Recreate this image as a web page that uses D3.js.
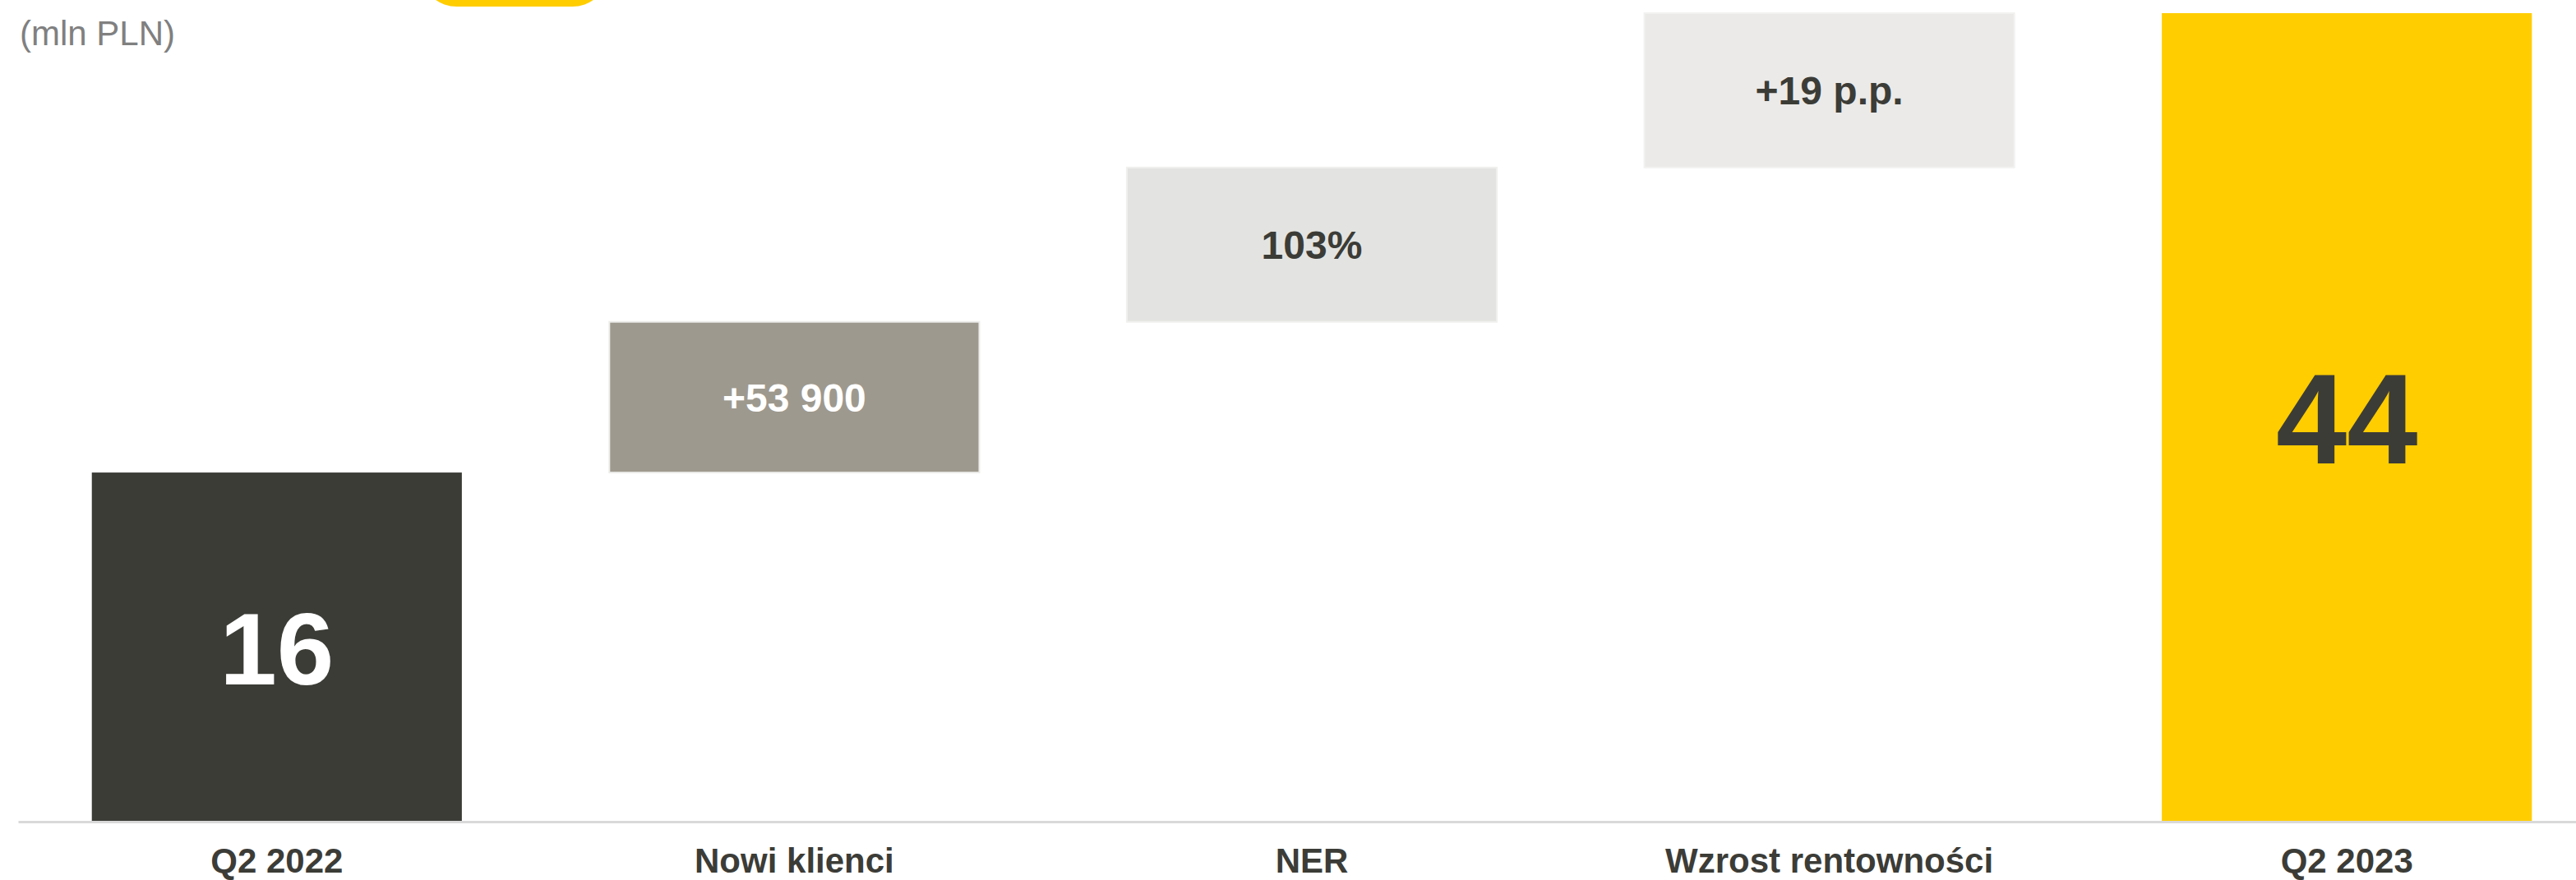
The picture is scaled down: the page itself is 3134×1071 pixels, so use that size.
<!DOCTYPE html>
<html>
<head>
<meta charset="utf-8">
<script src="https://cdn.jsdelivr.net/npm/d3@7"></script>
<style>
  html, body { margin: 0; padding: 0; background: #ffffff; }
  svg { display: block; font-family: "Liberation Sans", Arial, sans-serif; }
</style>
</head>
<body>
<svg id="chart" width="3134" height="1071"></svg>
<script>
// ---- data ----
const categories = ["Q2 2022", "Nowi klienci", "NER", "Wzrost rentowności", "Q2 2023"];
// schematic waterfall extents (in the chart's units)
const barStart = [0, 19, 27.2, 35.6, 0];
const barEnd   = [19, 27.2, 35.6, 44, 44];
const valueLabels = ["16", "+53 900", "103%", "+19 p.p.", "44"];
const unitLabel = "(mln PLN)";

// ---- styles ----
const fills = ["#3c3c37", "#9e998e", "#e3e4e1", "#ebeae8", "#ffcd00"];
const strokes = ["none", "#ececea", "#f0f0ee", "#f2f2f0", "none"];
const labelColors = ["#ffffff", "#ffffff", "#3c3c37", "#3c3c37", "#3c3c37"];
const labelSizes = [125, 48, 48, 48, 155];

const svg = d3.select("#chart");
const baseY = 1000;

const x = d3.scaleBand()
  .domain(categories)
  .range([22, 3170])
  .paddingInner(0.285)
  .paddingOuter(0.1425);

const y = d3.scaleLinear()
  .domain([0, 44])
  .range([baseY, 16]);

const data = categories.map((c, i) => ({
  cat: c, s: barStart[i], e: barEnd[i], label: valueLabels[i], i
}));

// decorative yellow pill at the top edge
svg.append("rect")
  .attr("x", 516).attr("y", -60)
  .attr("width", 220).attr("height", 68)
  .attr("rx", 40).attr("ry", 40)
  .attr("fill", "#ffcd00");

// unit label
svg.append("text")
  .attr("x", 24).attr("y", 55)
  .attr("font-size", 42)
  .attr("fill", "#808080")
  .text(unitLabel);

// bars
svg.append("g").selectAll("rect")
  .data(data)
  .join("rect")
  .attr("x", d => x(d.cat))
  .attr("width", x.bandwidth())
  .attr("y", d => y(d.e))
  .attr("height", d => y(d.s) - y(d.e))
  .attr("fill", d => fills[d.i])
  .attr("stroke", d => strokes[d.i])
  .attr("stroke-width", 2);

// value labels
svg.append("g").selectAll("text")
  .data(data)
  .join("text")
  .attr("x", d => x(d.cat) + x.bandwidth() / 2)
  .attr("y", d => (y(d.s) + y(d.e)) / 2)
  .attr("dy", "0.36em")
  .attr("text-anchor", "middle")
  .attr("font-weight", "bold")
  .attr("font-size", d => labelSizes[d.i])
  .attr("fill", d => labelColors[d.i])
  .text(d => d.label);

// x axis
const axis = d3.axisBottom(x).tickSize(0).tickPadding(32);
const gx = svg.append("g")
  .attr("transform", `translate(0,${baseY})`)
  .call(axis);
gx.select(".domain").attr("stroke", "#d9d9d9").attr("stroke-width", 3);
gx.selectAll(".tick text")
  .attr("font-family", "\"Liberation Sans\", Arial, sans-serif")
  .attr("font-size", 42)
  .attr("font-weight", "bold")
  .attr("fill", "#3c3c37");
</script>
</body>
</html>
